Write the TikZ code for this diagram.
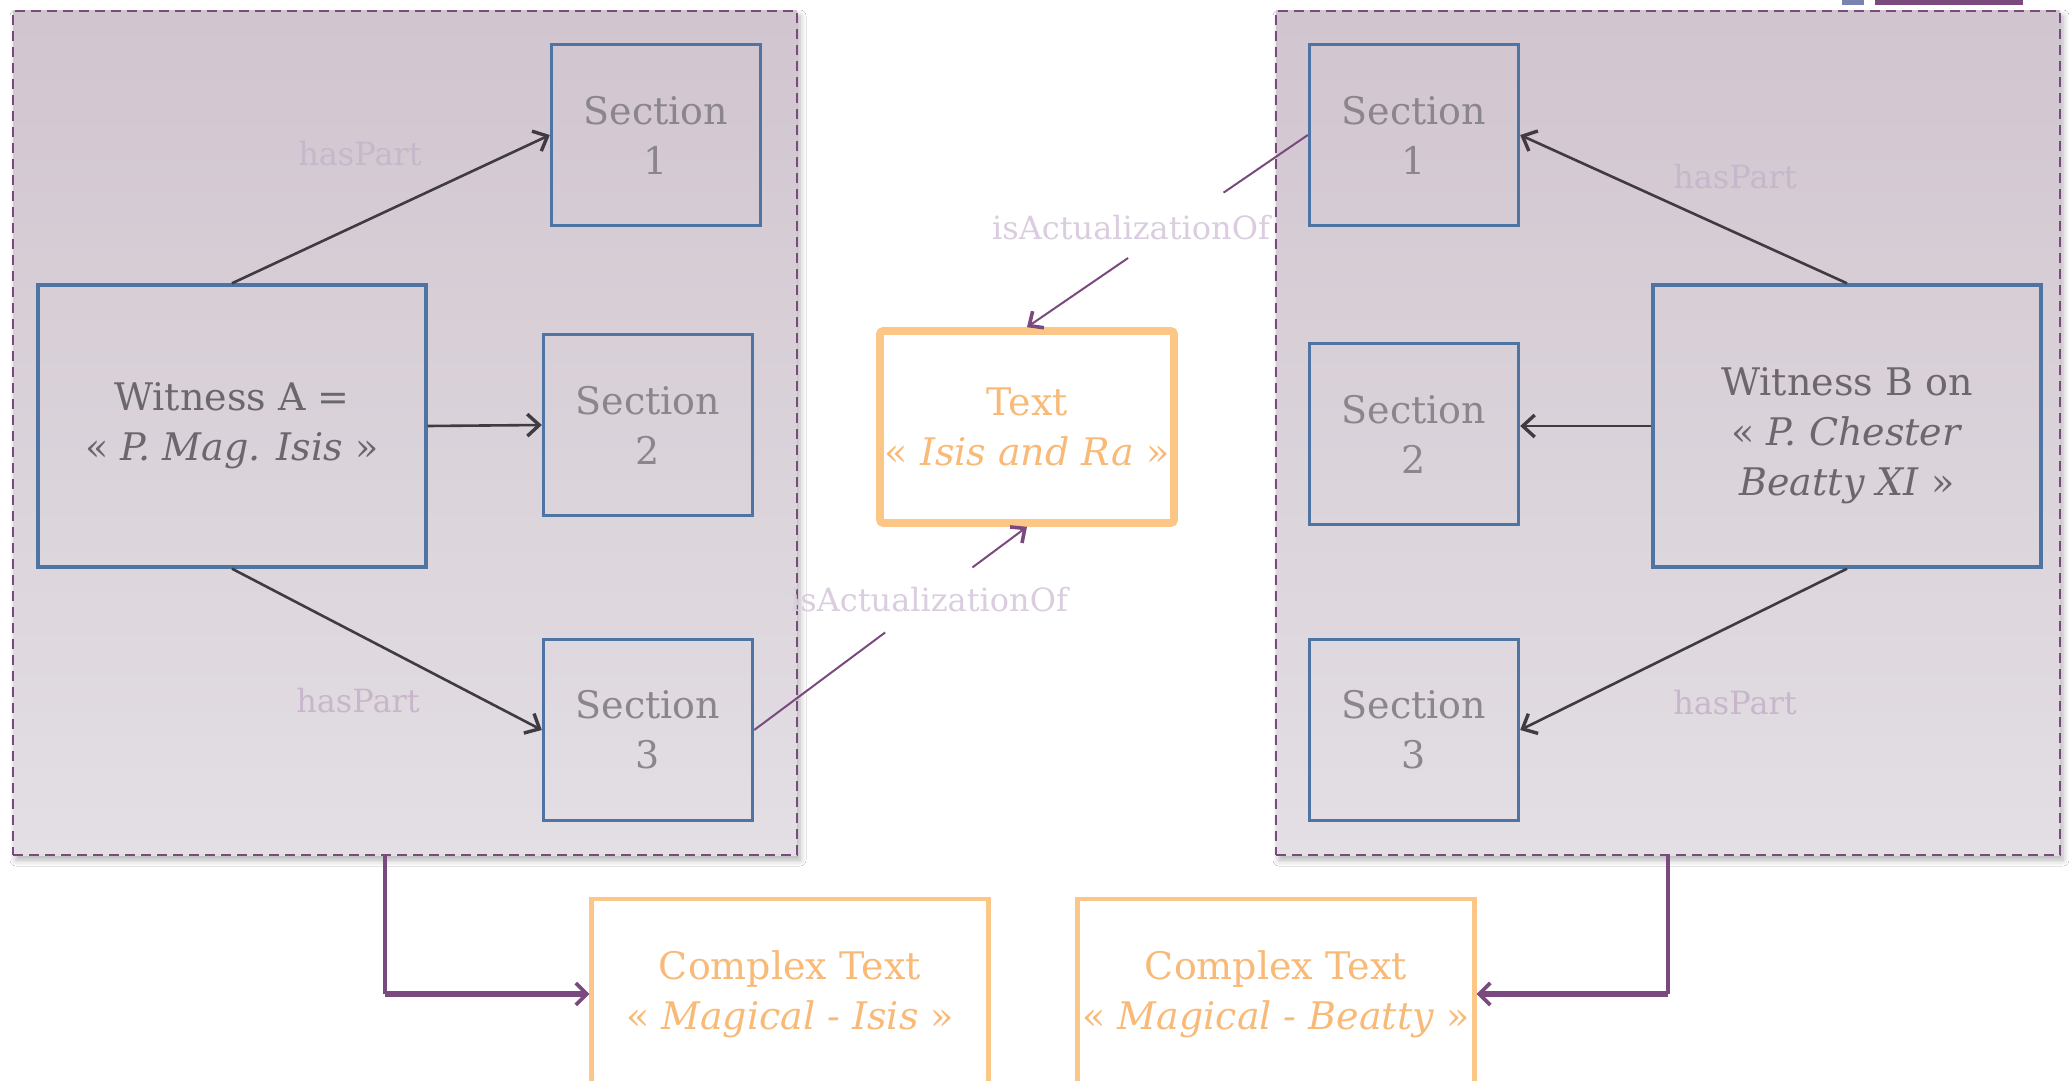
\documentclass[tikz,border=0pt]{standalone}
\usepackage{fontspec}
\setmainfont{DejaVu Serif}
\usetikzlibrary{arrows.meta,calc,shadows.blur}
\definecolor{papyGroupTop}{HTML}{D1C5CF}
\definecolor{papyGroupBot}{HTML}{E3DFE4}
\definecolor{papyPurple}{HTML}{7A4A7E}
\definecolor{papyBlue}{HTML}{4D74A2}
\definecolor{papyBlueGrey}{HTML}{7A82B0}
\definecolor{papyArrow}{HTML}{403A41}
\definecolor{papySecText}{HTML}{8B868B}
\definecolor{papyWitText}{HTML}{6C676D}
\definecolor{papyOrange}{HTML}{FCC686}
\definecolor{papyOrangeText}{HTML}{F9BA78}
\definecolor{papyLilac}{HTML}{C7B7CB}
\definecolor{papyLilacPale}{HTML}{DACDDF}

\begin{document}
\begin{tikzpicture}[x=0.5pt,y=-0.5pt,
  boxfont/.style={font=\fontsize{19}{25}\selectfont},
  witgroup/.style={draw=papyPurple,dash pattern=on 5pt off 3pt,line width=1.3pt,
    top color=papyGroupTop,bottom color=papyGroupBot,inner sep=0pt,
    blur shadow={shadow xshift=1.5pt,shadow yshift=-2.5pt,shadow blur steps=6,
      shadow blur radius=3pt,shadow opacity=30},
    minimum width=392pt,minimum height=422pt},
  secbox/.style={boxfont,draw=papyBlue,line width=1.7pt,inner sep=0pt,align=center,
    text=papySecText,minimum width=104.5pt,minimum height=90.5pt},
  witbox/.style={secbox,text=papyWitText,minimum width=194pt,minimum height=141pt},
  textbox/.style={boxfont,draw=papyOrange,line width=3.8pt,rounded corners=1.5pt,
    fill=white,inner sep=0pt,align=center,text=papyOrangeText,
    minimum width=147pt,minimum height=96pt},
  cplxbox/.style={textbox,line width=2.2pt,rounded corners=0pt,
    minimum width=198.5pt,minimum height=95pt},
  rellabel/.style={text=papyLilac,font=\fontsize{16}{18}\selectfont},
  haspart/.style={draw=papyArrow,line width=1.3pt,
    -{Straight Barb[length=6pt,width=11pt,line width=1.7pt]}},
  actual/.style={draw=papyPurple,line width=1pt},
  actualtip/.style={actual,-{Straight Barb[length=5.5pt,width=10pt,line width=1.8pt]}},
  flowdown/.style={draw=papyPurple,line width=1.6pt},
  flow/.style={draw=papyPurple,line width=2.6pt,
    -{Straight Barb[length=5.5pt,width=11pt,line width=1.8pt]}}]

\useasboundingbox[fill=white] (0,0) rectangle (2069,1081);

\fill[papyBlueGrey] (1842,0) rectangle (1864,5);
\fill[papyPurple] (1875,0) rectangle (2023,5);

\node[witgroup] (lgrp) at (405,433) {};
\node[witgroup] (rgrp) at (1668,433) {};

\node[witbox] (wa) at (232,426) {Witness A =\\« \textit{P. Mag. Isis} »};
\node[secbox] (ls1) at (656,135) {Section\\1};
\node[secbox] (ls2) at (648,425) {Section\\2};
\node[secbox] (ls3) at (648,730) {Section\\3};

\node[witbox] (wb) at (1847,426) {\raisebox{-4.5pt}[\height][\depth]{\begin{tabular}{@{}c@{}}Witness B on\\« \textit{P. Chester}\\\textit{Beatty XI} »\end{tabular}}};
\node[secbox] (rs1) at (1414,135) {Section\\1};
\node[secbox] (rs2) at (1414,434) {Section\\2};
\node[secbox] (rs3) at (1414,730) {Section\\3};

\node[textbox] (txt) at (1027,427) {Text\\« \textit{Isis and Ra} »};
\node[cplxbox] (cti) at (790,994) {Complex Text\\« \textit{Magical - Isis} »};
\node[cplxbox] (ctb) at (1276,994) {Complex Text\\« \textit{Magical - Beatty} »};

\draw[haspart] (wa.north) -- (ls1.west);
\draw[haspart] (wa.east) -- (ls2.west);
\draw[haspart] (wa.south) -- (ls3.west);
\draw[haspart] (wb.north) -- (rs1.east);
\draw[haspart] (wb.west) -- (wb.west -| rs2.east);
\draw[haspart] (wb.south) -- (rs3.east);

\node[rellabel] (hpa1) at (360,154) {hasPart};
\node[rellabel] (hpa3) at (358,701) {hasPart};
\node[rellabel] (hpb1) at (1735,177) {hasPart};
\node[rellabel] (hpb3) at (1735,703) {hasPart};

\path (rs1.west) -- (txt.north) coordinate[pos=0.30] (actTopA) coordinate[pos=0.64] (actTopB);
\draw[actual] (rs1.west) -- (actTopA);
\draw[actualtip] (actTopB) -- (txt.north);
\node[rellabel,text=papyLilacPale] (actTop) at (1131,228) {isActualizationOf};

\path (ls3.east) -- (txt.south) coordinate[pos=0.48] (actBotA) coordinate[pos=0.80] (actBotB);
\draw[actual] (ls3.east) -- (actBotA);
\draw[actualtip] (actBotB) -- (txt.south);
\node[rellabel,text=papyLilacPale] (actBot) at (929,600) {isActualizationOf};

\draw[flowdown] ($(lgrp.south)+(-20,0)$) coordinate (lout) -- (lout |- cti.west);
\draw[flow] (lout |- cti.west) -- (cti.west);
\draw[flowdown] (rgrp.south) -- (rgrp.south |- ctb.east);
\draw[flow] (rgrp.south |- ctb.east) -- (ctb.east);
\end{tikzpicture}
\end{document}
